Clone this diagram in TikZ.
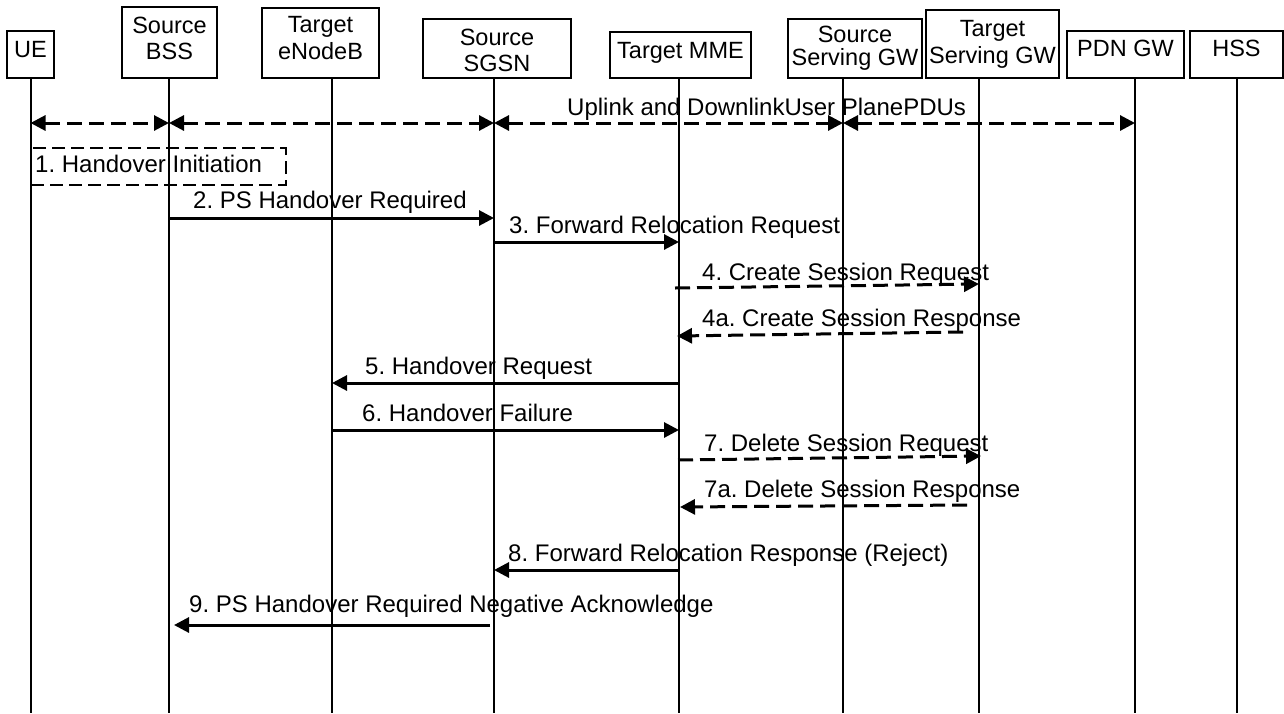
\documentclass[tikz,border=0pt]{standalone}
\usepackage{fontspec}
\setmainfont{Liberation Sans}
\usetikzlibrary{arrows.meta}
\frenchspacing
\begin{document}
\begin{tikzpicture}[x=1pt,y=-1pt,
  box/.style={draw, line width=2.4pt, inner sep=0pt},
  hdr/.style={anchor=base, inner sep=0pt, font=\fontsize{23.5}{26}\selectfont},
  life/.style={line width=2pt},
  tip/.tip={Triangle[length=15pt,width=15pt]},
  msg/.style={line width=3pt, -tip},
  dmsg/.style={msg, dash pattern=on 15pt off 7pt},
  dboth/.style={line width=3pt, dash pattern=on 15pt off 7pt, tip-tip},
  lbl/.style={anchor=base west, inner sep=0pt, font=\fontsize{24}{28}\selectfont},
]
\useasboundingbox (0,0) rectangle (1284,713);

% header boxes
\node[box, minimum width=47pt,  minimum height=47pt] (ue)   at (30.5,54.5) {};
\node[box, minimum width=95pt,  minimum height=71pt] (bss)  at (169.5,42.5) {};
\node[box, minimum width=117pt, minimum height=70pt] (enb)  at (320.5,43) {};
\node[box, minimum width=148pt, minimum height=59pt] (sgsn) at (497,48.5) {};
\node[box, minimum width=141pt, minimum height=46pt] (mme)  at (680.5,55) {};
\node[box, minimum width=134pt, minimum height=59pt] (ssgw) at (855,48.5) {};
\node[box, minimum width=133pt, minimum height=68pt] (tsgw) at (992.5,44) {};
\node[box, minimum width=117pt, minimum height=47pt] (pgw)  at (1125.5,54.5) {};
\node[box, minimum width=93pt,  minimum height=47pt] (hss)  at (1236.5,54.5) {};

% header texts
\node[hdr] (ue-l)   at (30.5,57) {UE};
\node[hdr] (bss-l1) at (169.5,33) {Source};
\node[hdr] (bss-l2) at (169.5,59) {BSS};
\node[hdr] (enb-l1) at (320.5,32.7) {Target};
\node[hdr] (enb-l2) at (320.5,59) {eNodeB};
\node[hdr] (sgsn-l1) at (497,45.5) {Source};
\node[hdr] (sgsn-l2) at (497,71.7) {SGSN};
\node[hdr] (mme-l)  at (680.5,58.3) {Target MME};
\node[hdr] (ssgw-l1) at (855,42.3) {Source};
\node[hdr] (ssgw-l2) at (855,65) {Serving GW};
\node[hdr] (tsgw-l1) at (992.5,36.5) {Target};
\node[hdr] (tsgw-l2) at (992.5,63) {Serving GW};
\node[hdr] (pgw-l)  at (1125.5,56) {PDN GW};
\node[hdr] (hss-l)  at (1236.5,56) {HSS};

% lifeline bottoms
\coordinate (ue-b)   at (30.5,713);
\coordinate (bss-b)  at (169,713);
\coordinate (enb-b)  at (332,713);
\coordinate (sgsn-b) at (494,713);
\coordinate (mme-b)  at (679,713);
\coordinate (ssgw-b) at (843,713);
\coordinate (tsgw-b) at (979,713);
\coordinate (pgw-b)  at (1135,713);
\coordinate (hss-b)  at (1237,713);

\foreach \n in {ue,bss,enb,sgsn,mme,ssgw,tsgw,pgw,hss}
  \draw[life] (\n-b |- \n.south) -- (\n-b);

% row coordinates
\coordinate (r0) at (0,123);
\coordinate (r2) at (0,218);
\coordinate (r3) at (0,242);
\coordinate (r4a) at (0,288);
\coordinate (r4b) at (0,284);
\coordinate (r4c) at (0,332);
\coordinate (r4d) at (0,336);
\coordinate (r5) at (0,383);
\coordinate (r6) at (0,430);
\coordinate (r7a) at (0,460);
\coordinate (r7b) at (0,456);
\coordinate (r7c) at (0,505);
\coordinate (r7d) at (0,507);
\coordinate (r8) at (0,570);
\coordinate (r9) at (0,625);

% row 0: user plane
\draw[dboth] (ue-b |- r0) -- (bss-b |- r0);
\draw[dboth] (bss-b |- r0) -- (sgsn-b |- r0);
\draw[dboth] (sgsn-b |- r0) -- (ssgw-b |- r0);
\draw[dboth] (ssgw-b |- r0) -- (pgw-b |- r0);
\node[lbl] (l0) at (567,115) {Uplink and DownlinkUser PlanePDUs};

% 1. handover initiation
\node[draw, line width=2.5pt, dash pattern=on 13pt off 6pt, inner sep=0pt,
      minimum width=255pt, minimum height=37pt] (hi) at (158.5,166.5) {};
\node[lbl] (l1) at (35,172) {1. Handover Initiation};

% messages
\draw[msg] (bss-b |- r2) -- (sgsn-b |- r2);
\node[lbl] (l2) at (193,208) {2. PS Handover Required};

\draw[msg] (sgsn-b |- r3) -- (mme-b |- r3);
\node[lbl] (l3) at (509,233) {3. Forward Relocation Request};

\draw[dmsg] ([xshift=-4pt]mme-b |- r4a) -- (tsgw-b |- r4b);
\node[lbl] (l4) at (702,280) {4. Create Session Request};

\draw[dmsg] ([xshift=-16pt]tsgw-b |- r4c) -- ([xshift=-2pt]mme-b |- r4d);
\node[lbl] (l4a) at (702,326) {4a. Create Session Response};

\draw[msg] (mme-b |- r5) -- (enb-b |- r5);
\node[lbl] (l5) at (365,374) {5. Handover Request};

\draw[msg] (enb-b |- r6) -- (mme-b |- r6);
\node[lbl] (l6) at (362,421) {6. Handover Failure};

\draw[dmsg] ([xshift=-1pt]mme-b |- r7a) -- ([xshift=2pt]tsgw-b |- r7b);
\node[lbl] (l7) at (704,451) {7. Delete Session Request};

\draw[dmsg] ([xshift=-12pt]tsgw-b |- r7c) -- ([xshift=1pt]mme-b |- r7d);
\node[lbl] (l7a) at (704,497) {7a. Delete Session Response};

\draw[msg] (mme-b |- r8) -- (sgsn-b |- r8);
\node[lbl] (l8) at (508,561) {8. Forward Relocation Response (Reject)};

\draw[msg] ([xshift=-4pt]sgsn-b |- r9) -- ([xshift=5pt]bss-b |- r9);
\node[lbl] (l9) at (189,612) {9. PS Handover Required Negative Acknowledge};
\end{tikzpicture}
\end{document}
